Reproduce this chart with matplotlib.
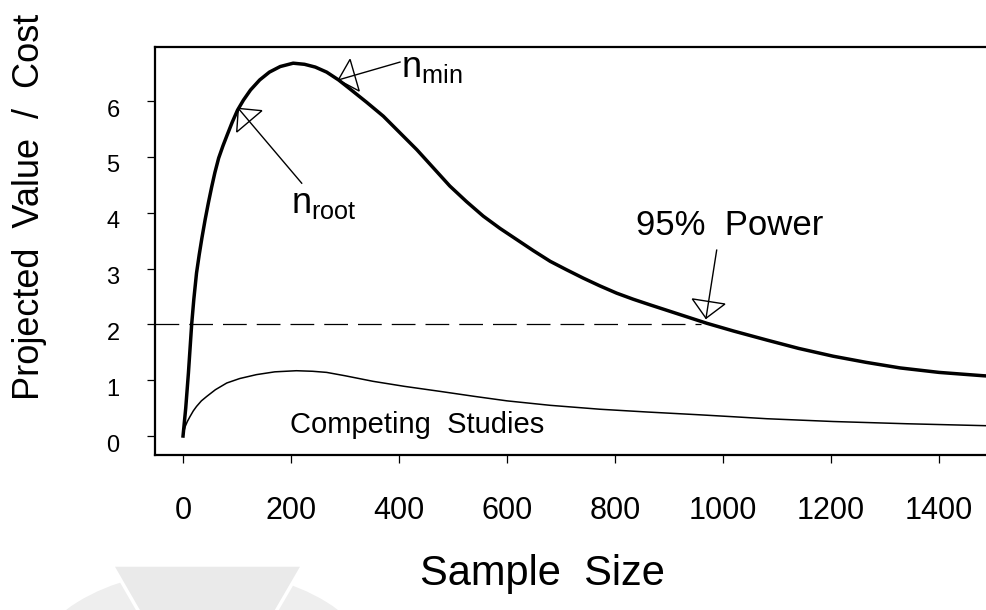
import numpy as np
import matplotlib
matplotlib.use("Agg")
import matplotlib.pyplot as plt
from matplotlib.patches import Circle, Polygon
from matplotlib.transforms import ScaledTranslation

plt.rcParams['font.family'] = ['Liberation Sans', 'DejaVu Sans']
plt.rcParams['mathtext.default'] = 'regular'

# values
n_value = [0, 5, 10, 16, 20, 25, 30, 35, 41, 47, 53, 59, 66, 74, 82, 91, 101, 112, 125, 142,
           160, 180, 204, 225, 245, 266, 288, 309, 340, 371, 402, 433, 464, 494, 525, 556,
           587, 618, 649, 680, 710, 741, 772, 803, 834, 865, 900, 935, 970, 1020, 1081,
           1140, 1204, 1265, 1328, 1400, 1482, 1500]
value = [0, 0.50, 1.13, 2.0, 2.45, 2.92, 3.25, 3.55, 3.88, 4.18, 4.46, 4.72, 4.98, 5.20, 5.40,
         5.62, 5.84, 6.02, 6.20, 6.38, 6.52, 6.62, 6.68, 6.66, 6.61, 6.52, 6.38, 6.22, 5.98,
         5.73, 5.43, 5.13, 4.80, 4.48, 4.20, 3.94, 3.72, 3.52, 3.32, 3.13, 2.98, 2.83, 2.69,
         2.56, 2.45, 2.35, 2.24, 2.13, 2.02, 1.88, 1.72, 1.57, 1.43, 1.32, 1.22, 1.14, 1.08, 1.07]

n_comp = [0, 2, 4, 8, 13, 19, 25, 34, 44, 60, 81, 105, 136, 170, 210, 240, 266, 300, 352,
          410, 476, 540, 600, 680, 772, 860, 957, 1020, 1081, 1204, 1340, 1487]
comp = [0, 0.10, 0.17, 0.26, 0.35, 0.45, 0.53, 0.63, 0.71, 0.83, 0.95, 1.03, 1.10, 1.15, 1.17,
        1.16, 1.14, 1.08, 0.98, 0.89, 0.80, 0.71, 0.63, 0.55, 0.48, 0.43, 0.38, 0.345, 0.31,
        0.26, 0.22, 0.185]

power_level = 2.0
power_n = 960
xticks = [0, 200, 400, 600, 800, 1000, 1200, 1400]
yticks = [0, 1, 2, 3, 4, 5, 6]

W, H = 986, 610
fig = plt.figure(figsize=(W / 100, H / 100), dpi=100)

# faint watermark in the lower left
fig.patches.append(Circle((202 / W, (H - 679) / H), 176 / W, transform=fig.transFigure,
                          facecolor='#eeeeee', edgecolor='none', zorder=0))
fig.patches.append(Polygon([(112 / W, (H - 565) / H), (303 / W, (H - 565) / H), (207 / W, (H - 730) / H)],
                           closed=True, transform=fig.transFigure, facecolor='#eaeaea',
                           edgecolor='white', lw=2.5, zorder=0.5))

ax = fig.add_axes([155 / W, (H - 455) / H, (1000 - 155) / W, (455 - 47) / H])
ax.set_facecolor('none')
ax.set_xlim(-51.9, 1513)
ax.set_ylim(-0.34, 6.97)

ax.plot(n_value, value, color='black', lw=2.5, solid_joinstyle='round')
ax.plot(n_comp, comp, color='black', lw=1.1, solid_joinstyle='round')
ax.plot([-51.9, power_n], [power_level, power_level], color='black', lw=0.9,
        linestyle=(0, (19, 8)))

for s in ['left', 'bottom', 'top']:
    ax.spines[s].set_linewidth(1.6)
ax.spines['right'].set_visible(False)

ax.set_xticks(xticks)
ax.set_yticks(yticks)
ax.tick_params(axis='x', direction='out', length=5.5, width=0.9, labelsize=22, pad=24)
ax.tick_params(axis='y', direction='out', length=5.5, width=0.9, labelsize=17, pad=20)
for lab in ax.get_yticklabels():
    lab.set_transform(lab.get_transform() + ScaledTranslation(0, -7 / 100, fig.dpi_scale_trans))


def open_arrow(tip, start, head_len=17, head_w=33):
    t = ax.transData.transform(tip)
    s = ax.transData.transform(start)
    u = (s - t) / np.hypot(*(s - t))
    p = np.array([-u[1], u[0]])
    base = t + u * head_len
    pts = np.array([t, base + p * head_w / 2, base - p * head_w / 2])
    pts = ax.transData.inverted().transform(pts)
    ax.add_patch(Polygon(pts, closed=True, fill=False, edgecolor='black', lw=1.0))
    ax.plot([start[0], tip[0]], [start[1], tip[1]], color='black', lw=1.0)


open_arrow((287.6, 6.38), (401.9, 6.70))
open_arrow((102.4, 5.87), (219.8, 4.53))
open_arrow((968.5, 2.11), (988.3, 3.33))

ax.text(403.7, 6.43, r'$n_{min}$', fontsize=26, ha='left', va='baseline')
ax.text(200, 4.0, r'$n_{root}$', fontsize=26, ha='left', va='baseline')
ax.text(1013, 3.60, '95%  Power', fontsize=25, ha='center', va='baseline')
ax.text(198, 0.06, 'Competing  Studies', fontsize=21, ha='left', va='baseline')

fig.text(542 / W, (H - 585) / H, 'Sample  Size', fontsize=30, ha='center', va='baseline')
fig.text(12 / W, (H - 207) / H, 'Projected  Value  /  Cost', fontsize=26, rotation=90,
         ha='left', va='center')

fig.savefig('out.png', dpi=100)
